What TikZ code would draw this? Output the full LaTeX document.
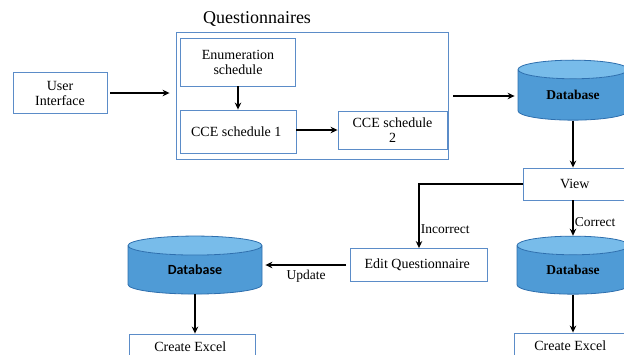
\documentclass[tikz,border=0pt]{standalone}
\usepackage{xcolor}
\usepackage{tikz}
\usepackage{fontspec}
\setmainfont{Liberation Serif}
\newfontfamily\dbsans{Carlito}
\usetikzlibrary{shapes.geometric,arrows.meta}
\definecolor{boxline}{HTML}{5B8CC8}
\definecolor{dbline}{HTML}{2E6FAE}
\definecolor{dbbody}{HTML}{4F9BD6}
\definecolor{dbtop}{HTML}{78BCEA}

\begin{document}
\begin{tikzpicture}[
    x=1pt, y=-1pt,
    box/.style={
        draw=boxline,
        line width=0.9pt,
        align=center,
        inner sep=2pt,
        font=\fontsize{14}{15}\selectfont
    },
    db/.style={
        cylinder,
        shape border rotate=90,
        aspect=0.35,
        draw=dbline,
        line width=0.8pt,
        cylinder uses custom fill,
        cylinder body fill=dbbody,
        cylinder end fill=dbtop,
        inner sep=0pt,
        font=\fontsize{13.5}{14}\selectfont\bfseries
    },
    arrow/.style={
        -{Stealth[length=7pt,width=6.5pt]},
        line width=1.8pt
    },
    lbl/.style={
        font=\fontsize{13.5}{14}\selectfont,
        inner sep=1pt
    }
]

\useasboundingbox (0,0) rectangle (624,354);
\clip (0,0) rectangle (624,354);

\node[box, minimum width=94, minimum height=41] (ui) at (60,93)
{
    User\\
    Interface
};

\node[box, minimum width=272, minimum height=127] (quest) at (312,96) {};
\node[font=\fontsize{18}{20}\selectfont] (questtitle) at (257,19) {Questionnaires};

\node[box, minimum width=115, minimum height=48] (enum) at (238,62)
{
    Enumeration\\
    schedule
};

\node[box, minimum width=116, minimum height=43] (cce1) at (238,131.5)
{
    CCE schedule 1
};

\node[box, minimum width=109, minimum height=38] (cce2) at (392.5,130)
{
    CCE schedule\\
    2
};

\node[db, minimum width=110, minimum height=60] (dbmain) at (573,95)
{
    Database
};

\node[box, minimum width=107, minimum height=32] (view) at (576.5,184)
{
    View
};

\node[box, minimum width=137, minimum height=33] (edit) at (419,265)
{
    Edit Questionnaire
};

\node[db, minimum width=134, minimum height=58, font=\dbsans\fontsize{14}{15}\selectfont\bfseries] (dbupdate) at (195,270)
{
    Database
};

\node[db, minimum width=112, minimum height=58] (dbcorrect) at (573,270)
{
    Database
};

\node[box, minimum width=126, minimum height=26] (exceleft) at (192,347)
{
    Create Excel
};

\node[box, minimum width=116, minimum height=26] (excelright) at (572,346)
{
    Create Excel
};

\draw[arrow, shorten <=3pt, shorten >=6pt] (ui.east) -- (ui.east -| quest.west);
\draw[arrow] (enum) -- (cce1);
\draw[arrow] (cce1.east |- cce2.west) -- (cce2.west);
\draw[arrow, shorten <=5pt, shorten >=3pt] (quest.east) -- (quest.east -| dbmain.west);

\draw[arrow] (dbmain.south) -- (dbmain.south |- view.north);

\draw[arrow] (view.west) -| (edit.north)
    node[lbl, pos=0.85, right] {Incorrect};

\draw[arrow, shorten <=4pt, shorten >=3pt] (edit.west) -- (edit.west -| dbupdate.east)
    node[lbl, midway, below=3pt] {Update};

\draw[arrow] (view.south -| dbcorrect.north) -- (dbcorrect.north)
    node[lbl, pos=0.6, right] {Correct};

\draw[arrow] (dbupdate.south) -- (dbupdate.south |- exceleft.north);
\draw[arrow] (dbcorrect.south) -- (dbcorrect.south |- excelright.north);

\end{tikzpicture}
\end{document}
